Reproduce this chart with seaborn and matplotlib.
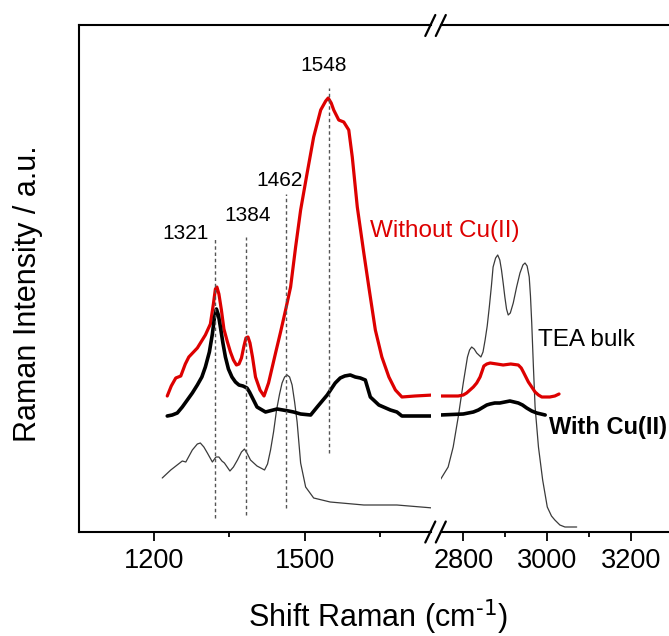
import numpy as np
import pandas as pd
import matplotlib
matplotlib.use("Agg")
import matplotlib.pyplot as plt
import seaborn as sns
from matplotlib.lines import Line2D

# ---------------- data (Raman shift in cm-1, intensity in a.u.) ----------------
red_left_x = [1226, 1234, 1243, 1253, 1262, 1269, 1286, 1302, 1312, 1318, 1322, 1325,
              1329, 1334, 1339, 1346, 1352, 1358, 1364, 1369, 1374, 1379, 1383, 1387,
              1391, 1396, 1402, 1411, 1419, 1428, 1442, 1452, 1462, 1472, 1482, 1492,
              1505, 1518, 1532, 1542, 1547, 1553, 1558, 1568, 1578, 1588, 1595, 1605,
              1618, 1628, 1641, 1654, 1668, 1681, 1694, 1720, 1756]
red_left_y = [136, 146, 154, 156, 168, 175, 184, 197, 208, 228, 243, 245,
              238, 222, 203, 190, 180, 172, 167, 168, 174, 186, 194, 195,
              189, 175, 155, 142, 136, 149, 179, 200, 222, 245, 285, 322,
              359, 395, 422, 431, 434, 429, 422, 412, 410, 402, 375, 325,
              279, 245, 202, 175, 155, 142, 135, 136, 137]

blk_left_x = [1226, 1236, 1246, 1256, 1266, 1276, 1286, 1295, 1302, 1310, 1316, 1320,
              1324, 1328, 1332, 1337, 1342, 1348, 1355, 1362, 1369, 1377, 1385, 1390,
              1395, 1405, 1422, 1445, 1468, 1478, 1492, 1512, 1525, 1545, 1561, 1571,
              1580, 1591, 1601, 1611, 1621, 1631, 1648, 1671, 1684, 1694, 1756]
blk_left_y = [116, 117, 119, 125, 132, 139, 147, 155, 165, 180, 198, 214,
              223, 217, 205, 189, 175, 163, 155, 150, 147, 146, 144, 140,
              135, 125, 120, 123, 121, 120, 118, 117, 125, 137, 149, 154,
              156, 157, 155, 154, 152, 135, 127, 122, 120, 116, 116]

tea_left_x = [1216, 1233, 1256, 1263, 1276, 1286, 1292, 1299, 1306, 1316, 1323, 1329,
              1335, 1340, 1351, 1358, 1366, 1374, 1380, 1386, 1392, 1405, 1420, 1426,
              1432, 1438, 1444, 1450, 1455, 1460, 1465, 1470, 1475, 1480, 1485, 1492,
              1502, 1518, 1551, 1618, 1684, 1756]
tea_left_y = [54, 62, 71, 70, 82, 88, 89, 85, 79, 70, 75, 75,
              71, 69, 61, 65, 72, 80, 83, 78, 72, 66, 62, 68,
              82, 100, 122, 138, 149, 155, 157, 155, 147, 130, 110, 69,
              45, 34, 30, 27, 27, 24]

tea_right_x = [2745, 2764, 2776, 2788, 2800, 2810, 2815, 2820, 2826, 2832, 2842, 2847,
               2852, 2857, 2862, 2867, 2871, 2877, 2882, 2887, 2891, 2895, 2899, 2903,
               2907, 2912, 2919, 2927, 2935, 2942, 2947, 2952, 2957, 2960, 2963, 2967,
               2971, 2979, 2989, 3000, 3010, 3018, 3030, 3042, 3070]
tea_right_y = [52, 65, 85, 115, 149, 175, 182, 185, 183, 179, 175, 180,
               192, 206, 225, 246, 265, 274, 277, 272, 262, 249, 235, 223,
               217, 219, 229, 245, 259, 267, 269, 266, 255, 236, 209, 165,
               125, 85, 52, 25, 16, 12, 7, 5, 5]

red_right_x = [2745, 2770, 2788, 2800, 2808, 2816, 2824, 2832, 2840, 2845, 2849, 2856,
               2864, 2880, 2895, 2913, 2931, 2938, 2943, 2949, 2955, 2963, 2971, 2979,
               2987, 3006, 3018, 3028]
red_right_y = [136, 136, 136, 137, 139, 142, 145, 149, 155, 161, 166, 168,
               169, 168, 167, 168, 167, 164, 160, 155, 150, 145, 140, 137,
               135, 135, 136, 138]

blk_right_x = [2745, 2800, 2812, 2824, 2836, 2848, 2856, 2864, 2875, 2887, 2899, 2911,
               2921, 2931, 2941, 2951, 2963, 2975, 2985, 2995]
blk_right_y = [117, 118, 119, 120, 122, 125, 127, 128, 129, 129, 130, 131,
               130, 129, 127, 124, 121, 119, 118, 117]

peak_pos = [1321, 1384, 1462, 1548]
peak_labels = ["1321", "1384", "1462", "1548"]
peak_lo = [14, 17, 24, 79]
peak_hi = [294, 295, 338, 444]

# ---------------- style ----------------
sns.set_style("ticks")
plt.rcParams['font.family'] = ['Liberation Sans', 'DejaVu Sans']
plt.rcParams['mathtext.default'] = 'regular'
plt.rcParams['text.color'] = 'black'
plt.rcParams['axes.labelcolor'] = 'black'
plt.rcParams['xtick.color'] = 'black'
plt.rcParams['ytick.color'] = 'black'

W, H = 669, 636
fig = plt.figure(figsize=(W / 100, H / 100), dpi=100)


def fx(px):
    return px / W


def fy(py):
    return 1 - py / H


top, bot = 25, 532
axL = fig.add_axes([fx(79), fy(bot), fx(431) - fx(79), fy(top) - fy(bot)])
axR = fig.add_axes([fx(441), fy(bot), fx(673.3) - fx(441), fy(top) - fy(bot)])

RED = "#dd0000"
GREY = "#3a3a3a"

# left segment
sns.lineplot(x=tea_left_x, y=tea_left_y, ax=axL, color=GREY, linewidth=0.9,
             estimator=None, sort=False)
sns.lineplot(x=red_left_x, y=red_left_y, ax=axL, color=RED, linewidth=2.3,
             estimator=None, sort=False)
sns.lineplot(x=blk_left_x, y=blk_left_y, ax=axL, color="black", linewidth=2.6,
             estimator=None, sort=False)
axL.vlines(peak_pos, peak_lo, peak_hi, colors="#555555", linewidth=1.0,
           linestyles=(0, (2.5, 2)))

# right segment
sns.lineplot(x=tea_right_x, y=tea_right_y, ax=axR, color=GREY, linewidth=0.9,
             estimator=None, sort=False)
sns.lineplot(x=red_right_x, y=red_right_y, ax=axR, color=RED, linewidth=2.3,
             estimator=None, sort=False)
sns.lineplot(x=blk_right_x, y=blk_right_y, ax=axR, color="black", linewidth=2.6,
             estimator=None, sort=False)

axL.set_xlim(1050, 1752)
axR.set_xlim(2747, 3300)
for ax in (axL, axR):
    ax.set_ylim(0, 507)
    ax.set_yticks([])
    ax.set_xlabel("")
    ax.set_ylabel("")
    ax.tick_params(axis="x", which="major", direction="out", length=6.5, width=1.3,
                   labelsize=19.5, pad=5, colors="black")
    ax.tick_params(axis="x", which="minor", direction="out", length=3.6, width=1.3,
                   colors="black")
    for s in ax.spines.values():
        s.set_linewidth(1.5)
        s.set_color("black")

axL.set_xticks([1200, 1500])
axL.set_xticks([1350, 1650], minor=True)
axR.set_xticks([2800, 3000, 3200])
axR.set_xticks([2900, 3100], minor=True)
axL.spines["right"].set_visible(False)
axR.spines["left"].set_visible(False)

# axis break marks
for cx in (430.3, 440.8):
    for cy in (25.5, 532):
        fig.add_artist(Line2D([fx(cx - 5), fx(cx + 5)], [fy(cy + 10.5), fy(cy - 10.5)],
                              color="black", linewidth=1.6))

# texts
left_px = [162, 224, 256, 300.8]
base_py = [239.5, 221, 185.8, 71]
for lab, lx, by in zip(peak_labels, left_px, base_py):
    fig.text(fx(lx), fy(by), lab, fontsize=15, ha="left", va="baseline")

fig.text(fx(370), fy(237), "Without Cu(II)", color=RED, fontsize=17.5,
         ha="left", va="baseline")
fig.text(fx(538), fy(346.5), "TEA bulk", fontsize=17.5, ha="left", va="baseline")
fig.text(fx(549), fy(434), "With Cu(II)", fontsize=17, fontweight="bold",
         ha="left", va="baseline")

fig.text(fx(28), fy(294), "Raman Intensity / a.u.", fontsize=22, rotation=90,
         ha="center", va="center")
fig.text(fx(377.6), fy(627), r"Shift Raman (cm$^{\text{-1}}$)", fontsize=22,
         ha="center", va="baseline")

fig.savefig("out.png", dpi=100)
